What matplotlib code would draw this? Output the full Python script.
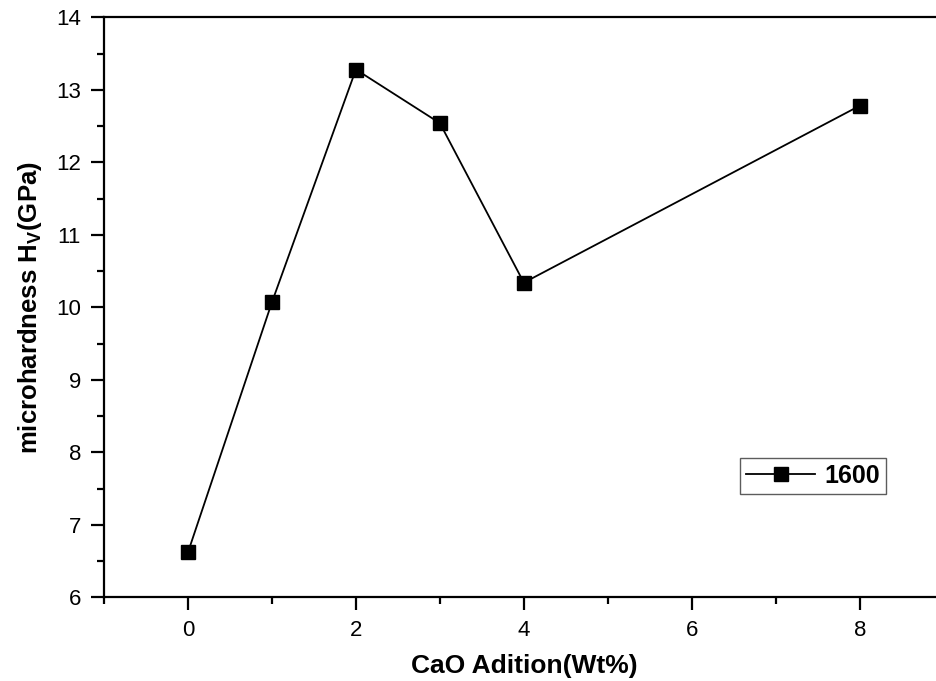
import numpy as np
import matplotlib
matplotlib.use("Agg")
import matplotlib.pyplot as plt
from matplotlib.ticker import MultipleLocator

# data
cao_wt = [0, 1, 2, 3, 4, 8]
hardness = [6.62, 10.07, 13.28, 12.54, 10.34, 12.78]
series_label = "1600"

plt.rcParams['font.family'] = ['Liberation Sans', 'DejaVu Sans']
plt.rcParams['mathtext.fontset'] = 'custom'
plt.rcParams['mathtext.bf'] = 'Liberation Sans:bold'
plt.rcParams['mathtext.rm'] = 'Liberation Sans:bold'

fig = plt.figure(figsize=(9.36, 6.81), dpi=100)
# right edge of the axes runs slightly off the figure, like the cropped original
ax = fig.add_axes([104 / 936, (681 - 597.3) / 681, (943.7 - 104) / 936, (597.3 - 17.3) / 681])

ax.plot(cao_wt, hardness, color='black', linewidth=1.3, marker='s',
        markersize=10.5, markerfacecolor='black', markeredgecolor='black',
        label=series_label)

ax.set_xlim(-1, 9)
ax.set_ylim(6, 14)
ax.xaxis.set_major_locator(MultipleLocator(2))
ax.xaxis.set_minor_locator(MultipleLocator(1))
ax.yaxis.set_major_locator(MultipleLocator(1))
ax.yaxis.set_minor_locator(MultipleLocator(0.5))

ax.tick_params(which='major', direction='out', length=9.5, width=1.6, labelsize=16, pad=7)
ax.tick_params(which='minor', direction='out', length=5, width=1.6)
for s in ax.spines.values():
    s.set_linewidth(1.6)

ax.set_xlabel("CaO Adition(Wt%)", fontsize=19, fontweight='bold', labelpad=9)
ax.set_ylabel(r"microhardness H$_\mathbf{V}$(GPa)", fontsize=18.5, fontweight='bold', labelpad=9)

leg = ax.legend(loc='lower right', bbox_to_anchor=(0.931, 0.178), borderaxespad=0,
                numpoints=1, handlelength=2.75, fancybox=False, edgecolor='#333333',
                prop={'weight': 'bold', 'size': 18}, borderpad=0.25, handletextpad=0.35)
leg.get_frame().set_linewidth(1.0)

fig.savefig("out.png", dpi=100)
